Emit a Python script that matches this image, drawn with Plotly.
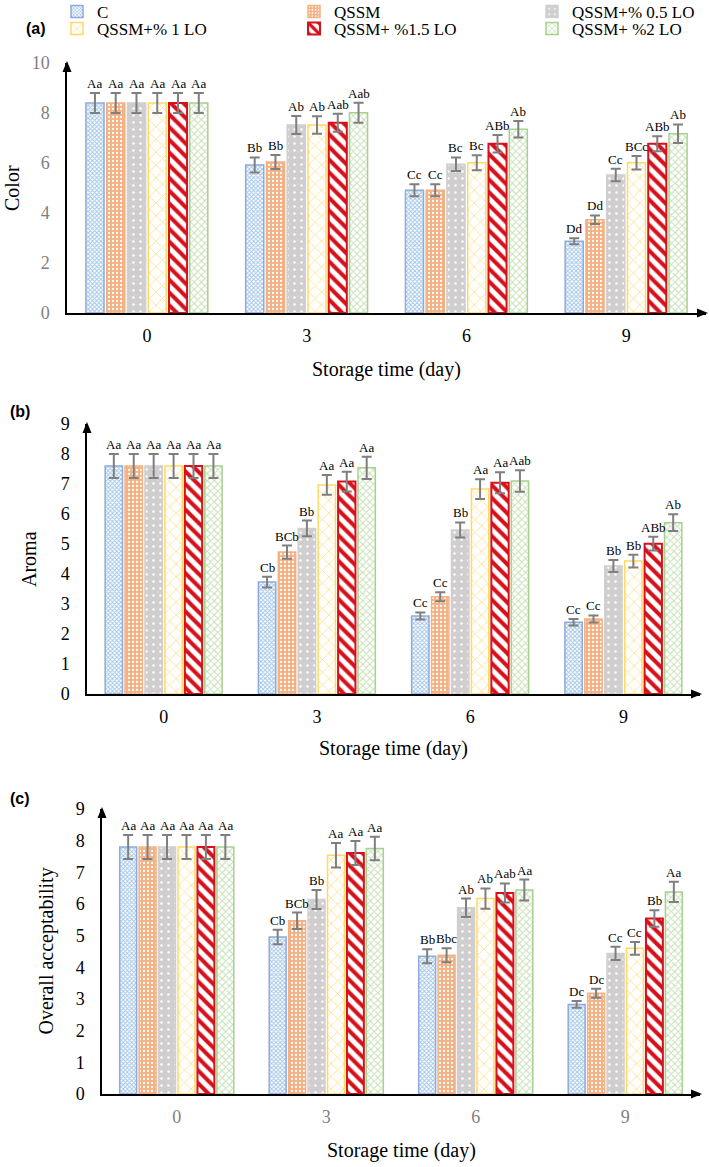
import plotly.graph_objects as go

# ---------------- data ----------------
days = ["0", "3", "6", "9"]
series = ["C", "QSSM", "QSSM+% 0.5 LO", "QSSM+% 1 LO", "QSSM+ %1.5 LO", "QSSM+ %2 LO"]

# (a) Color  - rows: series, cols: days
color_mean = [
    [8.4, 5.92, 4.91, 2.87],
    [8.4, 6.04, 4.91, 3.73],
    [8.4, 7.52, 5.95, 5.52],
    [8.4, 7.52, 6.01, 6.01],
    [8.4, 7.61, 6.77, 6.77],
    [8.4, 8.01, 7.35, 7.17],
]
color_sd = [
    [0.4, 0.30, 0.24, 0.12],
    [0.4, 0.28, 0.24, 0.17],
    [0.4, 0.36, 0.27, 0.25],
    [0.4, 0.35, 0.30, 0.27],
    [0.4, 0.36, 0.35, 0.30],
    [0.4, 0.40, 0.33, 0.37],
]
color_letters = [
    ["Aa", "Bb", "Cc", "Dd"],
    ["Aa", "Bb", "Cc", "Dd"],
    ["Aa", "Ab", "Bc", "Cc"],
    ["Aa", "Ab", "Bc", "BCc"],
    ["Aa", "Aab", "ABb", "ABb"],
    ["Aa", "Aab", "Ab", "Ab"],
]

# (b) Aroma
aroma_mean = [
    [7.6, 3.73, 2.60, 2.39],
    [7.6, 4.73, 3.24, 2.50],
    [7.6, 5.52, 5.47, 4.27],
    [7.6, 6.97, 6.83, 4.43],
    [7.6, 7.08, 7.04, 5.01],
    [7.6, 7.54, 7.10, 5.71],
]
aroma_sd = [
    [0.4, 0.18, 0.12, 0.11],
    [0.4, 0.22, 0.15, 0.12],
    [0.4, 0.26, 0.25, 0.20],
    [0.4, 0.33, 0.33, 0.21],
    [0.4, 0.33, 0.35, 0.23],
    [0.4, 0.37, 0.36, 0.28],
]
aroma_letters = [
    ["Aa", "Cb", "Cc", "Cc"],
    ["Aa", "BCb", "Cc", "Cc"],
    ["Aa", "Bb", "Bb", "Bb"],
    ["Aa", "Aa", "Aa", "Bb"],
    ["Aa", "Aa", "Aa", "ABb"],
    ["Aa", "Aa", "Aab", "Ab"],
]

# (c) Overall acceptability
overall_mean = [
    [7.8, 4.96, 4.35, 2.83],
    [7.8, 5.47, 4.38, 3.18],
    [7.8, 6.14, 5.88, 4.44],
    [7.8, 7.54, 6.17, 4.60],
    [7.8, 7.61, 6.35, 5.54],
    [7.8, 7.75, 6.44, 6.38],
]
overall_sd = [
    [0.38, 0.23, 0.22, 0.11],
    [0.38, 0.26, 0.22, 0.14],
    [0.38, 0.30, 0.29, 0.21],
    [0.38, 0.39, 0.32, 0.20],
    [0.38, 0.38, 0.30, 0.26],
    [0.38, 0.37, 0.33, 0.32],
]
overall_letters = [
    ["Aa", "Cb", "Bb", "Dc"],
    ["Aa", "BCb", "Bbc", "Dc"],
    ["Aa", "Bb", "Ab", "Cc"],
    ["Aa", "Aa", "Ab", "Cc"],
    ["Aa", "Aa", "Aab", "Bb"],
    ["Aa", "Aa", "Aa", "Aa"],
]

# ---------------- styles / layout ----------------
W, H = 709, 1167
SERIF = "Liberation Serif, Times New Roman, serif"
SANS = "Liberation Sans, Arial, sans-serif"
BARGAP, GROUPGAP = 0.22, 0.13


def px(x):
    return x / W


def py(y):
    return 1 - y / H


styles = [
    dict(line="#8FAADC", bg="white", fg="#9DC3E6", shape="x", size=3, sol=0.5, lw=1.5),
    dict(line="#F4B183", bg="#F4B183", fg="white", shape=".", size=4, sol=0.25, lw=1.5),
    dict(line="#D0CECE", bg="#D0CECE", fg="white", shape=".", size=7, sol=0.1, lw=1.5),
    dict(line="#FFD966", bg="white", fg="#FFE08A", shape="x", size=9, sol=0.18, lw=1.5),
    dict(line="#D6111B", bg="white", fg="#D6111B", shape="\\", size=9, sol=0.45, lw=2),
    dict(line="#A9D18E", bg="white", fg="#C5E0B4", shape="x", size=5, sol=0.35, lw=1.5),
]
# one legend box per series, laid out as 3 columns x 2 rows (pixel positions)
legend_cols = [57, 294, 532]
legend_rows = [12, 29]

panels = [
    dict(mean=color_mean, sd=color_sd, let=color_letters, ytitle="Color",
         left=67, right=706, zero=313, top=63, ymax=10, dtick=2,
         ytc="#7F7F7F", xtc="black", ytx=12, xty=370, tag="(a)", tagx=36, tagy=29),
    dict(mean=aroma_mean, sd=aroma_sd, let=aroma_letters, ytitle="Aroma",
         left=87, right=700, zero=694, top=424, ymax=9, dtick=1,
         ytc="black", xtc="black", ytx=29, xty=748, tag="(b)", tagx=20, tagy=412),
    dict(mean=overall_mean, sd=overall_sd, let=overall_letters, ytitle="Overall acceptability",
         left=102, right=700, zero=1094, top=809, ymax=9, dtick=1,
         ytc="black", xtc="#7F7F7F", ytx=46, xty=1150, tag="(c)", tagx=20, tagy=798),
]

fig = go.Figure()
annotations = []
shapes = []
xpos = list(range(len(days)))
n = len(series)
gw = 1 - BARGAP
legend_ids = ["legend" if i == 0 else f"legend{i + 1}" for i in range(n)]

for p_i, p in enumerate(panels):
    suf = "" if p_i == 0 else str(p_i + 1)
    xa, ya = "x" + suf, "y" + suf
    for s_i, name in enumerate(series):
        st = styles[s_i]
        fig.add_trace(go.Bar(
            x=xpos, y=p["mean"][s_i], name=name, xaxis=xa, yaxis=ya,
            legendgroup=name, showlegend=(p_i == 0), legend=legend_ids[s_i],
            marker=dict(color=st["bg"], line=dict(color=st["line"], width=st["lw"]),
                        pattern=dict(shape=st["shape"], bgcolor=st["bg"], fgcolor=st["fg"],
                                     size=st["size"], solidity=st["sol"], fillmode="replace")),
            error_y=dict(type="data", array=p["sd"][s_i], color="#7F7F7F", thickness=2, width=5),
            hoverinfo="skip",
        ))
        for d_i in range(len(days)):
            xc = d_i - gw / 2 + (s_i + 0.5) * gw / n
            annotations.append(dict(
                x=xc, y=p["mean"][s_i][d_i] + p["sd"][s_i][d_i], xref=xa, yref=ya,
                text=p["let"][s_i][d_i], showarrow=False, yanchor="bottom", yshift=1,
                borderpad=0,
                font=dict(family=SERIF, size=13, color="black")))
    xdom = [px(p["left"]), px(p["right"])]
    ydom = [py(p["zero"]), py(p["top"])]
    fig.layout["xaxis" + suf] = dict(
        domain=xdom, anchor=ya, range=[-0.5, len(days) - 0.5], tickvals=xpos, ticktext=days,
        showline=True, linecolor="black", linewidth=1.5, showgrid=False, zeroline=False,
        ticks="", ticklabelstandoff=6, tickfont=dict(family=SERIF, size=18, color=p["xtc"]),
        fixedrange=True)
    fig.layout["yaxis" + suf] = dict(
        domain=ydom, anchor=xa, range=[0, p["ymax"]], dtick=p["dtick"],
        showline=True, linecolor="black", linewidth=1.5, showgrid=False, zeroline=False,
        ticks="", ticklabelstandoff=12, tickfont=dict(family=SERIF, size=18, color=p["ytc"]),
        fixedrange=True)
    # axis titles
    annotations.append(dict(x=px(p["ytx"]), y=py((p["zero"] + p["top"]) / 2), xref="paper", yref="paper",
                            text=p["ytitle"], textangle=-90, showarrow=False,
                            xanchor="center", yanchor="middle",
                            font=dict(family=SERIF, size=20, color="black")))
    annotations.append(dict(x=px((p["left"] + p["right"]) / 2), y=py(p["xty"]), xref="paper", yref="paper",
                            text="Storage time (day)", showarrow=False,
                            xanchor="center", yanchor="middle",
                            font=dict(family=SERIF, size=20, color="black")))
    annotations.append(dict(x=px(p["tagx"]), y=py(p["tagy"]), xref="paper", yref="paper",
                            text="<b>" + p["tag"] + "</b>", showarrow=False,
                            xanchor="center", yanchor="middle",
                            font=dict(family=SANS, size=16, color="black")))
    # arrowheads
    L, R, Z, T = p["left"], p["right"], p["zero"], p["top"]
    shapes.append(dict(type="path", xref="paper", yref="paper", fillcolor="black", line=dict(width=0),
                       path=f"M {px(L)},{py(T - 2)} L {px(L - 4.5)},{py(T + 9)} L {px(L + 4.5)},{py(T + 9)} Z"))
    shapes.append(dict(type="path", xref="paper", yref="paper", fillcolor="black", line=dict(width=0),
                       path=f"M {px(R + 2)},{py(Z)} L {px(R - 9)},{py(Z - 4.5)} L {px(R - 9)},{py(Z + 4.5)} Z"))

legend_layout = {}
for s_i in range(n):
    legend_layout[legend_ids[s_i]] = dict(
        x=px(legend_cols[s_i % 3]), y=py(legend_rows[s_i // 3]),
        xanchor="left", yanchor="middle", orientation="h", itemwidth=30,
        font=dict(family=SERIF, size=17, color="black"),
        bgcolor="rgba(0,0,0,0)", borderwidth=0)

fig.update_layout(
    width=W, height=H, margin=dict(l=0, r=0, t=0, b=0, autoexpand=False),
    paper_bgcolor="white", plot_bgcolor="white",
    barmode="group", bargap=BARGAP, bargroupgap=GROUPGAP,
    annotations=annotations, shapes=shapes,
    font=dict(family=SERIF),
    **legend_layout,
)

fig.write_html("out.html", config={"displayModeBar": False},
               post_script="document.body.style.margin='0';")
